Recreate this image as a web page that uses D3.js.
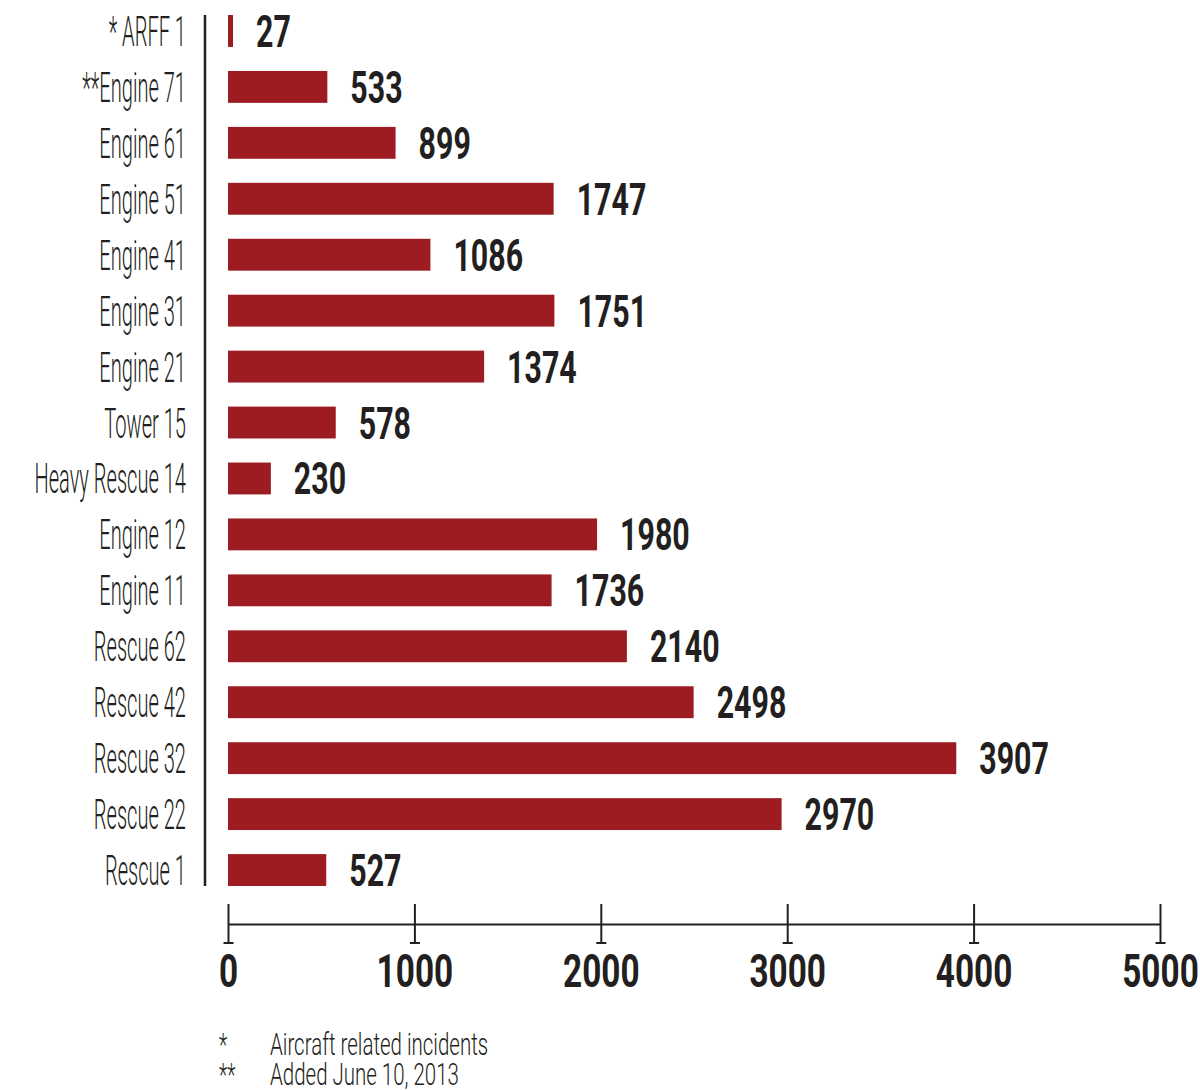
<!DOCTYPE html>
<html>
<head>
<meta charset="utf-8">
<script src="https://cdn.jsdelivr.net/npm/d3@7"></script>
<style>
  body { margin: 0; background: #fff; }
  svg { display: block; }
</style>
</head>
<body>
<div id="chart-container"></div>
<script>
'use strict'

// data
var units = ['* ARFF 1', '**Engine 71', 'Engine 61', 'Engine 51', 'Engine 41', 'Engine 31',
    'Engine 21', 'Tower 15', 'Heavy Rescue 14', 'Engine 12', 'Engine 11', 'Rescue 62',
    'Rescue 42', 'Rescue 32', 'Rescue 22', 'Rescue 1']
var incidents = [27, 533, 899, 1747, 1086, 1751, 1374, 578, 230, 1980, 1736, 2140, 2498, 3907, 2970, 527]
var xTicks = [0, 1000, 2000, 3000, 4000, 5000]
var footMarks = ['*', '**']
var footTexts = ['Aircraft related incidents', 'Added June 10, 2013']

var barColor = '#9d1c22'
var ink = '#231f20'
var lightFont = 'Roboto, "Liberation Sans", sans-serif'

var width = 1200, height = 1090

var svg = d3.select('#chart-container')
    .append('svg')
        .attr('width', width)
        .attr('height', height)

let x = d3.scaleLinear()
    .domain([0, 5000])
    .range([228, 1160])

let y = d3.scaleBand()
    .domain(units)
    .range([3, 898])
    .paddingInner(0.43)
    .paddingOuter(0.215)

let rows = units.map((u, i) => { return { name: u, value: incidents[i] } })

// vertical category line
svg.append('line')
    .attr('x1', 205).attr('x2', 205)
    .attr('y1', y(units[0]))
    .attr('y2', y(units[units.length - 1]) + y.bandwidth())
    .attr('stroke', ink)
    .attr('stroke-width', 2.5)

// category labels (very condensed light face)
svg.selectAll('.cat').data(rows)
    .enter().append('text')
    .attr('class', 'cat')
    .attr('transform', d => 'translate(186,' + (y(d.name) + y.bandwidth() / 2 + 15) + ') scale(0.478,1)')
    .attr('text-anchor', 'end')
    .style('font-family', lightFont)
    .style('font-weight', 300)
    .style('font-size', '42px')
    .attr('fill', ink)
    .text(d => d.name)

// bars
svg.selectAll('.bar').data(rows)
    .enter().append('rect')
    .attr('class', 'bar')
    .attr('x', x(0))
    .attr('y', d => y(d.name))
    .attr('width', d => x(d.value) - x(0))
    .attr('height', y.bandwidth())
    .attr('fill', barColor)

// value labels
svg.selectAll('.val').data(rows)
    .enter().append('text')
    .attr('class', 'val')
    .attr('transform', d => 'translate(' + (x(d.value) + 23) + ',' + (y(d.name) + y.bandwidth() / 2 + 16) + ') scale(0.69,1)')
    .style('font-family', lightFont)
    .style('font-weight', 700)
    .style('font-size', '44px')
    .attr('fill', ink)
    .text(d => d.value)

// x axis
let xAxis = d3.axisBottom(x)
    .tickValues(xTicks)
    .tickSizeOuter(0)
    .tickSizeInner(0)
    .tickFormat(d3.format('d'))

let axisG = svg.append('g')
    .attr('class', 'x axis')
    .attr('transform', 'translate(0,924)')
    .call(xAxis)

axisG.select('.domain')
    .attr('stroke', ink)
    .attr('stroke-width', 2)

axisG.selectAll('.tick line')
    .attr('y1', -20)
    .attr('y2', 19)
    .attr('stroke', ink)
    .attr('stroke-width', 2)

axisG.selectAll('.tick').append('line')
    .attr('x1', -5).attr('x2', 5)
    .attr('y1', 19).attr('y2', 19)
    .attr('stroke', ink)
    .attr('stroke-width', 2)

axisG.selectAll('.tick text')
    .attr('y', 0)
    .attr('dy', 0)
    .attr('transform', 'translate(0,63) scale(0.71,1)')
    .style('font-family', lightFont)
    .style('font-weight', 700)
    .style('font-size', '47px')
    .attr('fill', ink)

// footnotes
let notes = svg.append('g').attr('class', 'notes')
footMarks.forEach((m, i) => {
    notes.append('text')
        .attr('transform', 'translate(219,' + (1055 + i * 30) + ') scale(0.6,1)')
        .style('font-family', lightFont)
        .style('font-weight', 300)
        .style('font-size', '32px')
        .attr('fill', ink)
        .text(m)
    notes.append('text')
        .attr('transform', 'translate(270,' + (1055 + i * 30) + ') scale(0.64,1)')
        .style('font-family', lightFont)
        .style('font-weight', 300)
        .style('font-size', '32px')
        .attr('fill', ink)
        .text(footTexts[i])
})
</script>
</body>
</html>
